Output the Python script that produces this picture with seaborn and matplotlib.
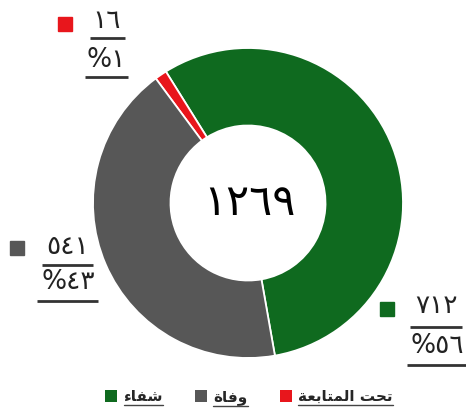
import matplotlib
matplotlib.use("Agg")
import matplotlib.pyplot as plt
import seaborn as sns
from matplotlib.patches import Patch
from matplotlib.lines import Line2D

# data (order as drawn, counter-clockwise from the bottom)
categories = ["شفاء", "تحت المتابعة", "وفاة"]
# Arabic shown with presentation forms in visual order (matplotlib has no shaping)
legend_labels = ["\uFE80\uFE8E\uFED4\uFEB7",
                 "\uFE94\uFECC\uFE91\uFE8E\uFE98\uFEE4\uFEDF\uFE8D \uFE96\uFEA4\uFE97",
                 "\uFE93\uFE8E\uFED3\uFEED"]
counts = [712, 16, 541]
count_labels = ["٧١٢", "١٦", "٥٤١"]
pct_labels = ["%٥٦", "%١", "%٤٣"]
total_label = "١٢٦٩"
colors = ["#0f6a1f", "#e8161c", "#575757"]

sns.set_style("white")
plt.rcParams["font.family"] = ["DejaVu Sans"]

W, H = 466, 412
fig = plt.figure(figsize=(W / 100, H / 100), dpi=100)
cx, cy, R = 248, 203, 155
ax = fig.add_axes([(cx - R) / W, 1 - (cy + R) / H, 2 * R / W, 2 * R / H])
ax.axis("off")

wedges, _ = ax.pie(counts, colors=colors, startangle=-80, counterclock=True,
                   radius=1, wedgeprops=dict(width=0.5, edgecolor="white", linewidth=1.3))
ax.set_xlim(-1, 1)
ax.set_ylim(-1, 1)

ax.text(0.01, 0.0, total_label, ha="center", va="center", fontsize=31, color="black")


def px(x, y):
    return (x - cx) / R, (cy - y) / R


# label layout in pixels: square, number, bar, percent, underline
layout = {
    "شفاء": dict(sq=(387, 309), num=(437, 306), bar=(327, 410, 462), pct=(437, 346), ul=(365, 407, 466)),
    "تحت المتابعة": dict(sq=(65, 24), num=(107, 21), bar=(38, 90, 125), pct=(106, 60), ul=(77, 85, 128)),
    "وفاة": dict(sq=(17, 248), num=(68, 247), bar=(265, 42, 93), pct=(68, 282), ul=(301, 37, 98)),
}

for cat, col, nl, pl in zip(categories, colors, count_labels, pct_labels):
    L = layout[cat]
    sx, sy = px(*L["sq"])
    ax.plot(sx, sy, marker="s", ms=10, color=col, clip_on=False, ls="none")
    nx, ny = px(*L["num"])
    ax.text(nx, ny, nl, ha="center", va="center", fontsize=19, color="#222222", clip_on=False)
    qx, qy = px(*L["pct"])
    ax.text(qx, qy, pl, ha="center", va="center", fontsize=19, color="#222222", clip_on=False)
    for key in ("bar", "ul"):
        yy, x0, x1 = L[key]
        a = px(x0, yy)
        b = px(x1, yy)
        ax.plot([a[0], b[0]], [a[1], b[1]], color="#333333", lw=2, clip_on=False,
                solid_capstyle="butt")

# legend: green, gray, red
order = [0, 2, 1]
handles = [Patch(facecolor=colors[i], edgecolor="none") for i in order]
leg = fig.legend(handles, [legend_labels[i] for i in order], loc="center",
                 bbox_to_anchor=(249 / W, 1 - 397 / H), ncol=3, frameon=False,
                 handlelength=0.8, handleheight=0.8, handletextpad=0.4,
                 columnspacing=2.1, prop=dict(size=11, weight="bold"))

fig.canvas.draw()
for t in leg.get_texts():
    bb = t.get_window_extent()
    fig.add_artist(Line2D([bb.x0, bb.x1], [bb.y0 - 1, bb.y0 - 1], transform=None,
                          color="#444444", lw=1))

fig.savefig("out.png", dpi=100)
